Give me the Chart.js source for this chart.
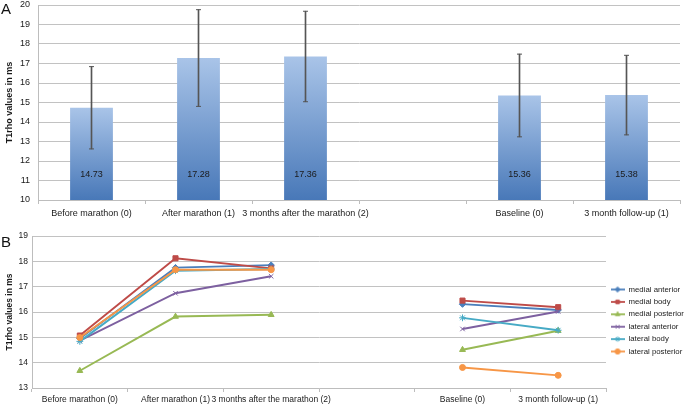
<!DOCTYPE html>
<html><head><meta charset="utf-8">
<script src="https://cdn.jsdelivr.net/npm/chart.js@4/dist/chart.umd.min.js"></script>
<style>
html,body{margin:0;padding:0;background:#fff;width:685px;height:405px;overflow:hidden;font-family:'Liberation Sans',Arial,sans-serif}
#wa{position:absolute;left:0;top:0;width:685px;height:222px}
#wb{position:absolute;left:0;top:222px;width:685px;height:183px}
.lbl{position:absolute;font-size:15px;color:#111;line-height:1}
</style></head><body>
<div id="wa"><canvas id="ca"></canvas></div>
<div id="wb"><canvas id="cb"></canvas></div>
<div class="lbl" style="left:1px;top:1px">A</div>
<div class="lbl" style="left:1px;top:234px">B</div>
<script>
// ---- data ----
const phaseLabels = ['Before marathon (0)', 'After marathon (1)', '3 months after the marathon (2)', '', 'Baseline (0)', '3 month follow-up (1)'];
// Panel A: mean T1rho and standard deviation
const meanT1rho = [14.73, 17.28, 17.36, null, 15.36, 15.38];
const sdT1rho   = [2.11, 2.48, 2.32, null, 2.12, 2.04];
const yTicksA = {min: 10, max: 20, step: 1};
// Panel B: regional T1rho
const seriesNames = ['medial anterior', 'medial body', 'medial posterior', 'lateral anterior', 'lateral body', 'lateral posterior'];
const medialAnterior   = [14.95, 17.75, 17.85, null, 16.31, 16.08];
const medialBody       = [15.07, 18.12, 17.72, null, 16.45, 16.19];
const medialPosterior  = [13.68, 15.82, 15.89, null, 14.51, 15.26];
const lateralAnterior  = [14.87, 16.74, 17.41, null, 15.33, 16.02];
const lateralBody      = [14.84, 17.63, 17.70, null, 15.77, 15.28];
const lateralPosterior = [14.99, 17.67, 17.67, null, 13.81, 13.50];
const yTicksB = {min: 13, max: 19, step: 1};

// ---- styles ----
const FONT = "'Liberation Sans', Arial, sans-serif";
const seriesColors = ['#4a7ebb', '#be4b48', '#98b954', '#7d60a0', '#46aac5', '#f79646'];
const seriesStyles = ['rectRot', 'rect', 'triangle', 'crossRot', 'star', 'circle'];
const seriesRadius = [3.2, 3.6, 3.4, 3.2, 3.4, 3];
const GRID = '#c2c2c2', AXIS = '#bdbdbd', TXT = '#1a1a1a', ERR = '#555555';
Chart.defaults.font.family = FONT;
Chart.defaults.color = TXT;

const seriesData = [medialAnterior, medialBody, medialPosterior, lateralAnterior, lateralBody, lateralPosterior];
const errHigh = meanT1rho.map((m, i) => m == null ? null : +(m + sdT1rho[i]).toFixed(2));
const errLow  = meanT1rho.map((m, i) => m == null ? null : +(m - sdT1rho[i]).toFixed(2));
const errRange = errLow.map((l, i) => l == null ? null : [l, errHigh[i]]);

function barGradient(c) {
  const ch = c.chart, y = ch.scales && ch.scales.y;
  if (!y || c.raw == null) return '#7aa0d2';
  const top = y.getPixelForValue(c.raw), bot = y.getPixelForValue(yTicksA.min);
  if (!isFinite(top) || !isFinite(bot)) return '#7aa0d2';
  const g = ch.ctx.createLinearGradient(0, top, 0, bot);
  g.addColorStop(0, '#a9c4e8');
  g.addColorStop(1, '#4878b8');
  return g;
}

const valueLabels = {
  id: 'valueLabels',
  afterDatasetsDraw(chart) {
    const ctx = chart.ctx, meta = chart.getDatasetMeta(0);
    const y = chart.scales.y.getPixelForValue(11.33);
    ctx.save();
    ctx.font = '9px ' + FONT;
    ctx.fillStyle = TXT;
    ctx.textAlign = 'center';
    ctx.textBaseline = 'middle';
    meta.data.forEach((el, i) => {
      const v = meanT1rho[i];
      if (v == null) return;
      ctx.fillText(v.toFixed(2), el.x, y);
    });
    ctx.restore();
  }
};

new Chart(document.getElementById('ca'), {
  type: 'bar',
  data: {
    labels: phaseLabels,
    datasets: [
      {type: 'bar', data: meanT1rho, backgroundColor: barGradient, borderWidth: 0, categoryPercentage: 1, barPercentage: 0.4, order: 3},
      {type: 'bar', data: errRange, backgroundColor: ERR, borderWidth: 0, barThickness: 1, order: 2},
      {type: 'line', data: errHigh, showLine: false, pointStyle: 'line', pointRadius: 2.5, borderColor: ERR, borderWidth: 1, order: 1},
      {type: 'line', data: errLow, showLine: false, pointStyle: 'line', pointRadius: 2.5, borderColor: ERR, borderWidth: 1, order: 1}
    ]
  },
  options: {
    responsive: true, maintainAspectRatio: false, animation: false, events: [],
    layout: {padding: {top: 3, right: 1, left: 0, bottom: 0}},
    plugins: {legend: {display: false}, tooltip: {enabled: false}},
    scales: {
      x: {
        stacked: true,
        grid: {drawOnChartArea: false, drawTicks: true, tickLength: 4, color: AXIS},
        border: {color: AXIS},
        ticks: {font: {size: 9}, color: TXT, maxRotation: 0, minRotation: 0, autoSkip: false, padding: 4},
        afterFit(s) { s.height = 22; s.paddingLeft = 0; s.paddingRight = 0; }
      },
      y: {
        min: yTicksA.min, max: yTicksA.max,
        ticks: {stepSize: yTicksA.step, font: {size: 9}, color: TXT, padding: 8},
        grid: {color: GRID, drawTicks: false},
        border: {color: AXIS},
        title: {display: true, text: 'T1rho values in ms', color: TXT, font: {size: 9, weight: 'bold'}, padding: {top: 4.6, bottom: 0}},
        afterFit(s) { s.width = 38; s.paddingTop = 0; s.paddingBottom = 0; }
      }
    }
  },
  plugins: [valueLabels]
});

function legendGlyph(i) {
  const c = document.createElement('canvas');
  c.width = 14; c.height = 8;
  const g = c.getContext('2d');
  g.strokeStyle = seriesColors[i]; g.fillStyle = seriesColors[i];
  g.lineWidth = 1.8;
  g.beginPath(); g.moveTo(0, 4); g.lineTo(14, 4); g.stroke();
  g.lineWidth = 1;
  if (Chart.helpers && Chart.helpers.drawPoint) {
    Chart.helpers.drawPoint(g, {pointStyle: seriesStyles[i], radius: 2.6, borderWidth: 1, rotation: 0}, 7, 4);
  } else {
    g.beginPath(); g.arc(7, 4, 2.5, 0, Math.PI * 2); g.fill();
  }
  return c;
}

new Chart(document.getElementById('cb'), {
  type: 'line',
  data: {
    labels: phaseLabels,
    datasets: seriesData.map((d, i) => ({
      label: seriesNames[i], data: d,
      borderColor: seriesColors[i], backgroundColor: seriesColors[i],
      pointStyle: seriesStyles[i], pointRadius: seriesRadius[i], pointBorderWidth: 1,
      pointBackgroundColor: seriesColors[i], pointBorderColor: seriesColors[i],
      borderWidth: 1.9, spanGaps: false, tension: 0, order: 6 - i
    }))
  },
  options: {
    responsive: true, maintainAspectRatio: false, animation: false, events: [],
    layout: {padding: {top: 14, right: 0, left: 0, bottom: 0}},
    plugins: {
      tooltip: {enabled: false},
      legend: {
        position: 'right', maxWidth: 79,
        labels: {
          usePointStyle: true, pointStyleWidth: 14, boxHeight: 8, padding: 4.6,
          font: {size: 7.8}, color: TXT,
          generateLabels: (chart) => seriesNames.map((n, i) => ({
            text: n, pointStyle: legendGlyph(i), fillStyle: seriesColors[i], strokeStyle: seriesColors[i],
            lineWidth: 0, hidden: false, datasetIndex: i, fontColor: TXT
          }))
        }
      }
    },
    scales: {
      x: {
        offset: true,
        grid: {offset: true, drawOnChartArea: false, drawTicks: true, tickLength: 4, color: AXIS},
        border: {color: AXIS},
        ticks: {font: {size: 8.5}, color: TXT, maxRotation: 0, minRotation: 0, autoSkip: false, padding: 2.5},
        afterFit(s) { s.height = 17; s.paddingLeft = 0; s.paddingRight = 0; }
      },
      y: {
        min: yTicksB.min, max: yTicksB.max,
        ticks: {stepSize: yTicksB.step, font: {size: 8.5}, color: TXT, padding: 4},
        grid: {color: GRID, drawTicks: false},
        border: {color: AXIS},
        title: {display: true, text: 'T1rho values in ms', color: TXT, font: {size: 8.5, weight: 'bold'}, padding: {top: 4.2, bottom: 0}},
        afterFit(s) { s.width = 32; s.paddingTop = 0; s.paddingBottom = 0; }
      }
    }
  }
});
</script>
</body></html>
